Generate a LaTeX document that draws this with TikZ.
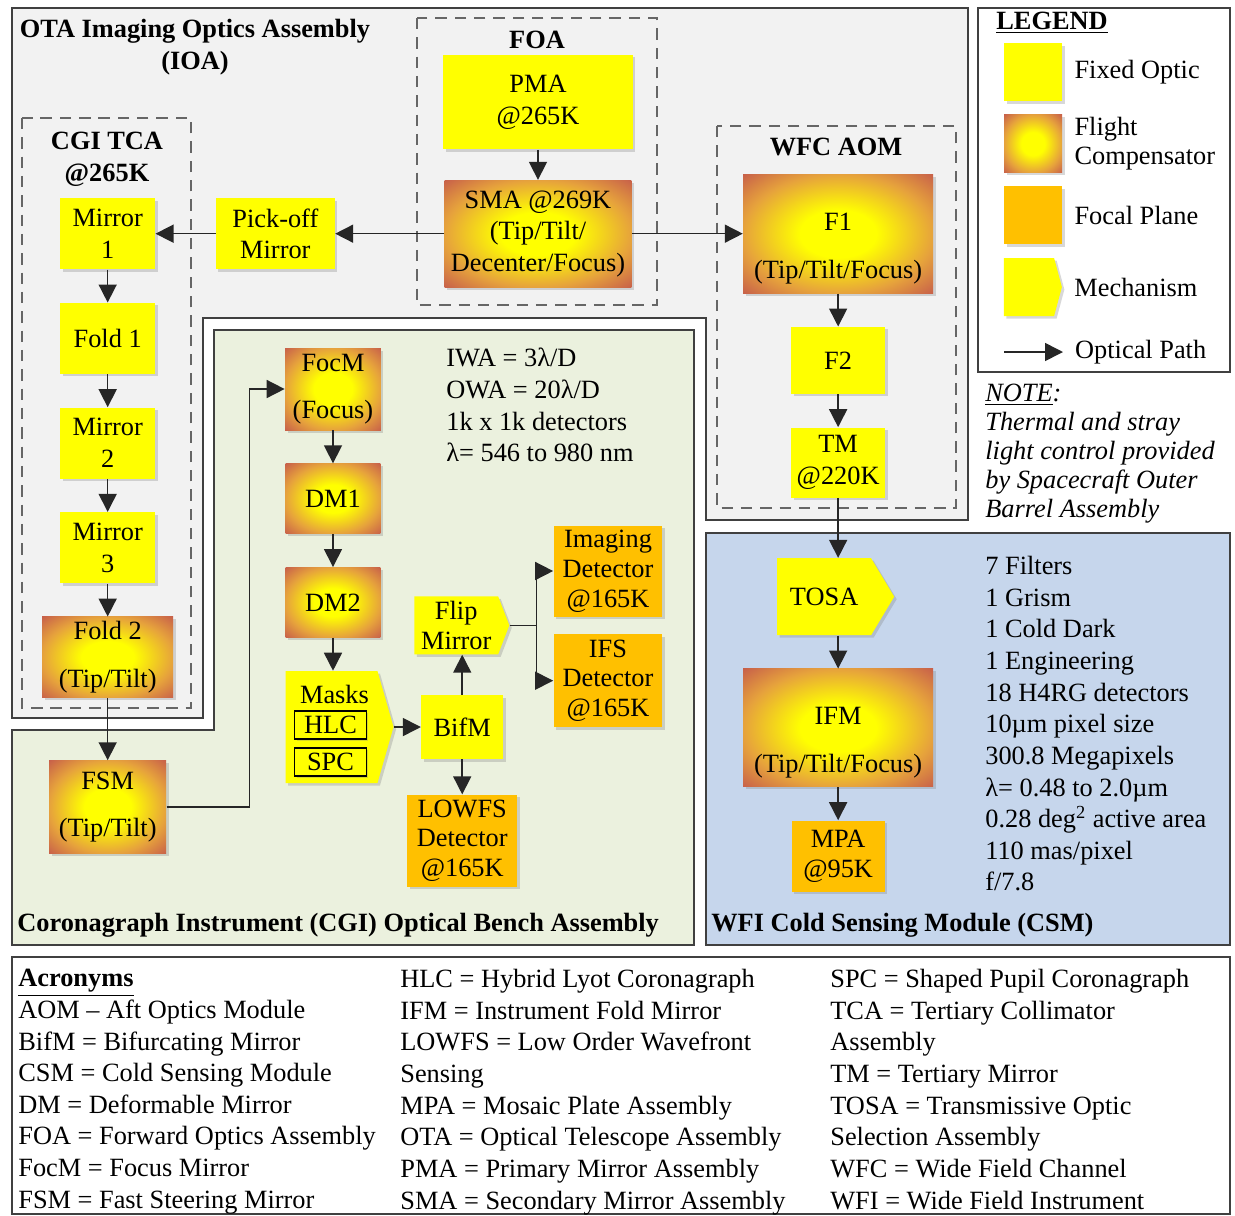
\documentclass[tikz,border=0pt]{standalone}
\usepackage{fontspec}
\setmainfont{Liberation Serif}
\usepackage{tikz}
\usetikzlibrary{arrows.meta}
\usetikzlibrary{positioning}
\usetikzlibrary{shapes.symbols}
\usetikzlibrary{shadows}
\usepackage{xcolor}
\definecolor{optyellow}{HTML}{FFFF00}
\definecolor{fcred}{HTML}{C0504D}
\definecolor{fcorange}{HTML}{E6A23C}
\definecolor{focalorange}{HTML}{FFC000}
\definecolor{ioagrey}{HTML}{F2F2F2}
\definecolor{benchgreen}{HTML}{EBF1DE}
\definecolor{csmblue}{HTML}{C6D6EC}
\definecolor{linegrey}{HTML}{404040}
\pgfdeclareradialshading{flightshade}{\pgfpoint{0bp}{0bp}}{%
  color(0bp)=(optyellow); color(10bp)=(optyellow); color(25bp)=(fcorange);
  color(38bp)=(fcred); color(50bp)=(fcred)}

\begin{document}
\begin{tikzpicture}[
  x=0.02cm, y=-0.02cm,
  font=\fontsize{15}{18}\selectfont,
  node distance=0.66cm,
  optic/.style={rectangle, fill=optyellow, align=center, inner sep=2pt,
    drop shadow={shadow xshift=0.05cm, shadow yshift=-0.05cm, opacity=0.3}},
  fixed/.style={optic},
  mirror/.style={optic, minimum width=1.9cm, minimum height=1.42cm},
  flight/.style={optic, shade, shading=flightshade},
  focal/.style={optic, fill=focalorange, inner sep=1pt,
    font=\fontsize{15}{17}\selectfont},
  mech/.style={optic, signal, signal to=east, signal from=nowhere,
    signal pointer angle=140},
  maskbox/.style={rectangle, draw=black, thick, fill=optyellow,
    minimum width=1.44cm, minimum height=0.56cm, inner sep=0pt,
    drop shadow={shadow xshift=0.04cm, shadow yshift=-0.04cm, opacity=0.3}},
  region/.style={draw=linegrey, line width=1.2pt},
  groupbox/.style={draw=black!60, line width=1pt, dash pattern=on 6.5pt off 4.5pt},
  title/.style={font=\fontsize{15}{18}\selectfont\bfseries, align=center, inner sep=0pt},
  spec/.style={align=left, inner sep=0pt, anchor=north west},
  arrow/.style={-{Triangle[length=0.36cm, width=0.36cm]}, line width=0.9pt, draw=black!85},
]
\useasboundingbox (0,0) rectangle (1235,1215);

% === Regions ===
\draw[region, fill=ioagrey] (12,8) -- (968,8) -- (968,520) -- (706,520) -- (706,318)
  -- (203,318) -- (203,718) -- (12,718) -- cycle;
\draw[region, fill=benchgreen] (12,730) -- (214,730) -- (214,330) -- (694,330)
  -- (694,945) -- (12,945) -- cycle;
\draw[region, fill=csmblue] (706,533) rectangle (1230,945);
\draw[region, fill=white] (978,8) rectangle (1230,372);
\draw[region] (12,957) rectangle (1230,1214);

\draw[groupbox] (417,18) rectangle (657,305);   % FOA
\draw[groupbox] (717,126) rectangle (956,508);  % WFC AOM
\draw[groupbox] (22,118) rectangle (191,708);   % CGI TCA

\node[title] (ioa_title) at (195,47) {OTA Imaging Optics Assembly\\(IOA)};
\node[title] (foa_title) at (537,40) {FOA};
\node[title] (tca_title) at (107,159) {CGI TCA\\@265K};
\node[title] (wfc_title) at (836,147) {WFC AOM};
\node[title, anchor=west] (bench_title) at (17,925)
  {Coronagraph Instrument (CGI) Optical Bench Assembly};
\node[title, anchor=west] (csm_title) at (711,925) {WFI Cold Sensing Module (CSM)};

% === FOA ===
\node[fixed, minimum width=3.8cm, minimum height=1.9cm] (pma) at (538,102) {PMA\\@265K};
\node[flight, minimum width=3.74cm, minimum height=2.14cm, below=0.6cm of pma] (sma)
  {SMA @269K\\(Tip/Tilt/\\Decenter/Focus)};

% === CGI TCA ===
\node[fixed, minimum width=2.38cm, minimum height=1.42cm, left=2.18cm of sma] (pickoff)
  {Pick-off\\Mirror};
\node[mirror, left=1.2cm of pickoff] (m1) {Mirror\\1};
\node[mirror, below=of m1] (fold1) {Fold 1};
\node[mirror, below=of fold1] (m2) {Mirror\\2};
\node[mirror, below=of m2] (m3) {Mirror\\3};
\node[flight, minimum width=2.62cm, minimum height=1.62cm, below=of m3] (fold2)
  {Fold 2\\[0.32cm](Tip/Tilt)};

% === WFC AOM ===
\node[flight, minimum width=3.8cm, minimum height=2.38cm, text height=1.9cm,
  right=2.22cm of sma] (f1) {F1\\[0.32cm](Tip/Tilt/Focus)};
\node[fixed, minimum width=1.88cm, minimum height=1.34cm, below=of f1] (f2) {F2};
\node[fixed, minimum width=1.88cm, minimum height=1.4cm, below=of f2] (tm) {TM\\@220K};

% === WFI CSM ===
\node[mech, minimum width=2.34cm, minimum height=1.54cm, signal pointer angle=118,
  below=1.2cm of tm, xshift=-0.28cm] (tosa) {TOSA};
\node[flight, minimum width=3.8cm, minimum height=2.36cm, text height=1.9cm,
  below=of tosa, xshift=0.28cm] (ifm) {IFM\\[0.32cm](Tip/Tilt/Focus)};
\node[focal, minimum width=1.86cm, minimum height=1.42cm, below=of ifm] (mpa) {MPA\\@95K};

\node[spec] (wfi_spec) at (985,556) {7 Filters\\1 Grism\\1 Cold Dark\\1 Engineering\\
  18 H4RG detectors\\10µm pixel size\\300.8 Megapixels\\λ= 0.48 to 2.0µm\\
  0.28 deg\textsuperscript{2} active area\\110 mas/pixel\\f/7.8};

% === CGI Optical Bench ===
\node[flight, minimum width=2.34cm, minimum height=1.86cm, below=1.24cm of fold2] (fsm)
  {FSM\\[0.32cm](Tip/Tilt)};
\node[flight, minimum width=1.92cm, minimum height=1.64cm] (focm) at (333,389)
  {FocM\\[0.32cm](Focus)};
\node[flight, minimum width=1.9cm, minimum height=1.4cm, below=of focm] (dm1) {DM1};
\node[flight, minimum width=1.9cm, minimum height=1.4cm, below=of dm1] (dm2) {DM2};
\node[mech, minimum width=2.16cm, minimum height=2.24cm, signal pointer angle=148,
  below=of dm2, xshift=-0.03cm] (masks) {};
\node[inner sep=0pt] (masks_lbl) at ([xshift=0.06cm, yshift=0.66cm]masks.center) {Masks};
\node[maskbox] (hlc) at ([xshift=-0.02cm, yshift=0.04cm]masks.center) {HLC};
\node[maskbox] (spc) at ([xshift=-0.02cm, yshift=-0.7cm]masks.center) {SPC};
\node[fixed, minimum width=1.64cm, minimum height=1.28cm, right=0.54cm of masks] (bifm) {BifM};
\node[mech, minimum width=1.9cm, minimum height=1.16cm, signal pointer angle=138,
  inner sep=1pt, font=\fontsize{15}{17}\selectfont, above=0.8cm of bifm,
  xshift=-0.12cm] (flip) {Flip\\Mirror};
\node[focal, minimum width=2.2cm, minimum height=1.84cm, below=0.7cm of bifm] (lowfs)
  {LOWFS\\Detector\\@165K};
\node[focal, minimum width=2.18cm, minimum height=1.82cm] (imgdet) at (608,571)
  {Imaging\\Detector\\@165K};
\node[focal, minimum width=2.18cm, minimum height=1.86cm, below=0.34cm of imgdet] (ifsdet)
  {IFS\\Detector\\@165K};

\node[spec] (cgi_spec) at (446,348) {IWA = 3λ/D\\OWA = 20λ/D\\1k x 1k detectors\\
  λ= 546 to 980 nm};

% === Legend ===
\node[title, anchor=west] (lg_title) at (996,23) {\underline{LEGEND}};
\node[fixed, minimum size=1.16cm] (lg_fixed) at (1033,72) {};
\node[flight, minimum size=1.16cm, below=0.26cm of lg_fixed] (lg_flight) {};
\node[focal, minimum size=1.16cm, below=0.26cm of lg_flight] (lg_focal) {};
\node[mech, minimum size=1.16cm, signal pointer angle=150, below=0.26cm of lg_focal,
  xshift=-0.08cm] (lg_mech) {};
\coordinate (lg_a) at (1004,352);
\coordinate (lg_b) at (1063,352);
\node[right=0.12cm of lg_fixed] (lg_fixed_txt) {Fixed Optic};
\node[align=left, right=0.12cm of lg_flight, font=\fontsize{15}{17}\selectfont]
  (lg_flight_txt) {Flight\\Compensator};
\node[right=0.12cm of lg_focal] (lg_focal_txt) {Focal Plane};
\node[right=0.12cm of lg_mech] (lg_mech_txt) {Mechanism};
\node[right=0.12cm of lg_b] (lg_path_txt) {Optical Path};

\node[spec, font=\fontsize{15}{16.5}\selectfont\itshape] (note) at (985,384)
  {\underline{NOTE}:\\Thermal and stray\\light control provided\\by Spacecraft Outer\\
  Barrel Assembly};

% === Acronyms ===
\node[spec] (acr1) at (18,969) {\underline{\textbf{Acronyms}}\\AOM -- Aft Optics Module\\
  BifM = Bifurcating Mirror\\CSM = Cold Sensing Module\\DM = Deformable Mirror\\
  FOA = Forward Optics Assembly\\FocM = Focus Mirror\\FSM = Fast Steering Mirror};
\node[spec] (acr2) at (400,969) {HLC = Hybrid Lyot Coronagraph\\IFM = Instrument Fold Mirror\\
  LOWFS = Low Order Wavefront\\Sensing\\MPA = Mosaic Plate Assembly\\
  OTA = Optical Telescope Assembly\\PMA = Primary Mirror Assembly\\
  SMA = Secondary Mirror Assembly};
\node[spec] (acr3) at (830,969) {SPC = Shaped Pupil Coronagraph\\TCA = Tertiary Collimator\\
  Assembly\\TM = Tertiary Mirror\\TOSA = Transmissive Optic\\Selection Assembly\\
  WFC = Wide Field Channel\\WFI = Wide Field Instrument};

% === Arrows ===
\draw[arrow] (pma) -- (sma);
\draw[arrow] (sma) -- (pickoff);
\draw[arrow] (pickoff) -- (m1);
\draw[arrow] (sma) -- (f1);
\draw[arrow] (m1) -- (fold1);
\draw[arrow] (fold1) -- (m2);
\draw[arrow] (m2) -- (m3);
\draw[arrow] (m3) -- (fold2);
\draw[arrow] (fold2) -- (fsm);
\draw[arrow] (fsm.east) -| ([xshift=-0.7cm]focm.west) -- (focm.west);
\draw[arrow] (focm) -- (dm1);
\draw[arrow] (dm1) -- (dm2);
\draw[arrow] (dm2.south) -- (dm2.south |- masks.north);
\draw[arrow] (masks) -- (bifm);
\draw[arrow] (bifm) -- (bifm |- flip.south);
\draw[arrow] (bifm) -- (lowfs);
\coordinate[right=0.54cm of flip.east] (split);
\draw[arrow] (flip.east) -- (split) |- (imgdet.west);
\draw[arrow] (split) |- (ifsdet.west);
\draw[arrow] (f1) -- (f2);
\draw[arrow] (f2) -- (tm);
\draw[arrow] (tm) -- (tm |- tosa.north);
\draw[arrow] (tm |- tosa.south) -- (ifm);
\draw[arrow] (ifm) -- (mpa);
\draw[arrow] (lg_a) -- (lg_b);

\end{tikzpicture}
\end{document}
